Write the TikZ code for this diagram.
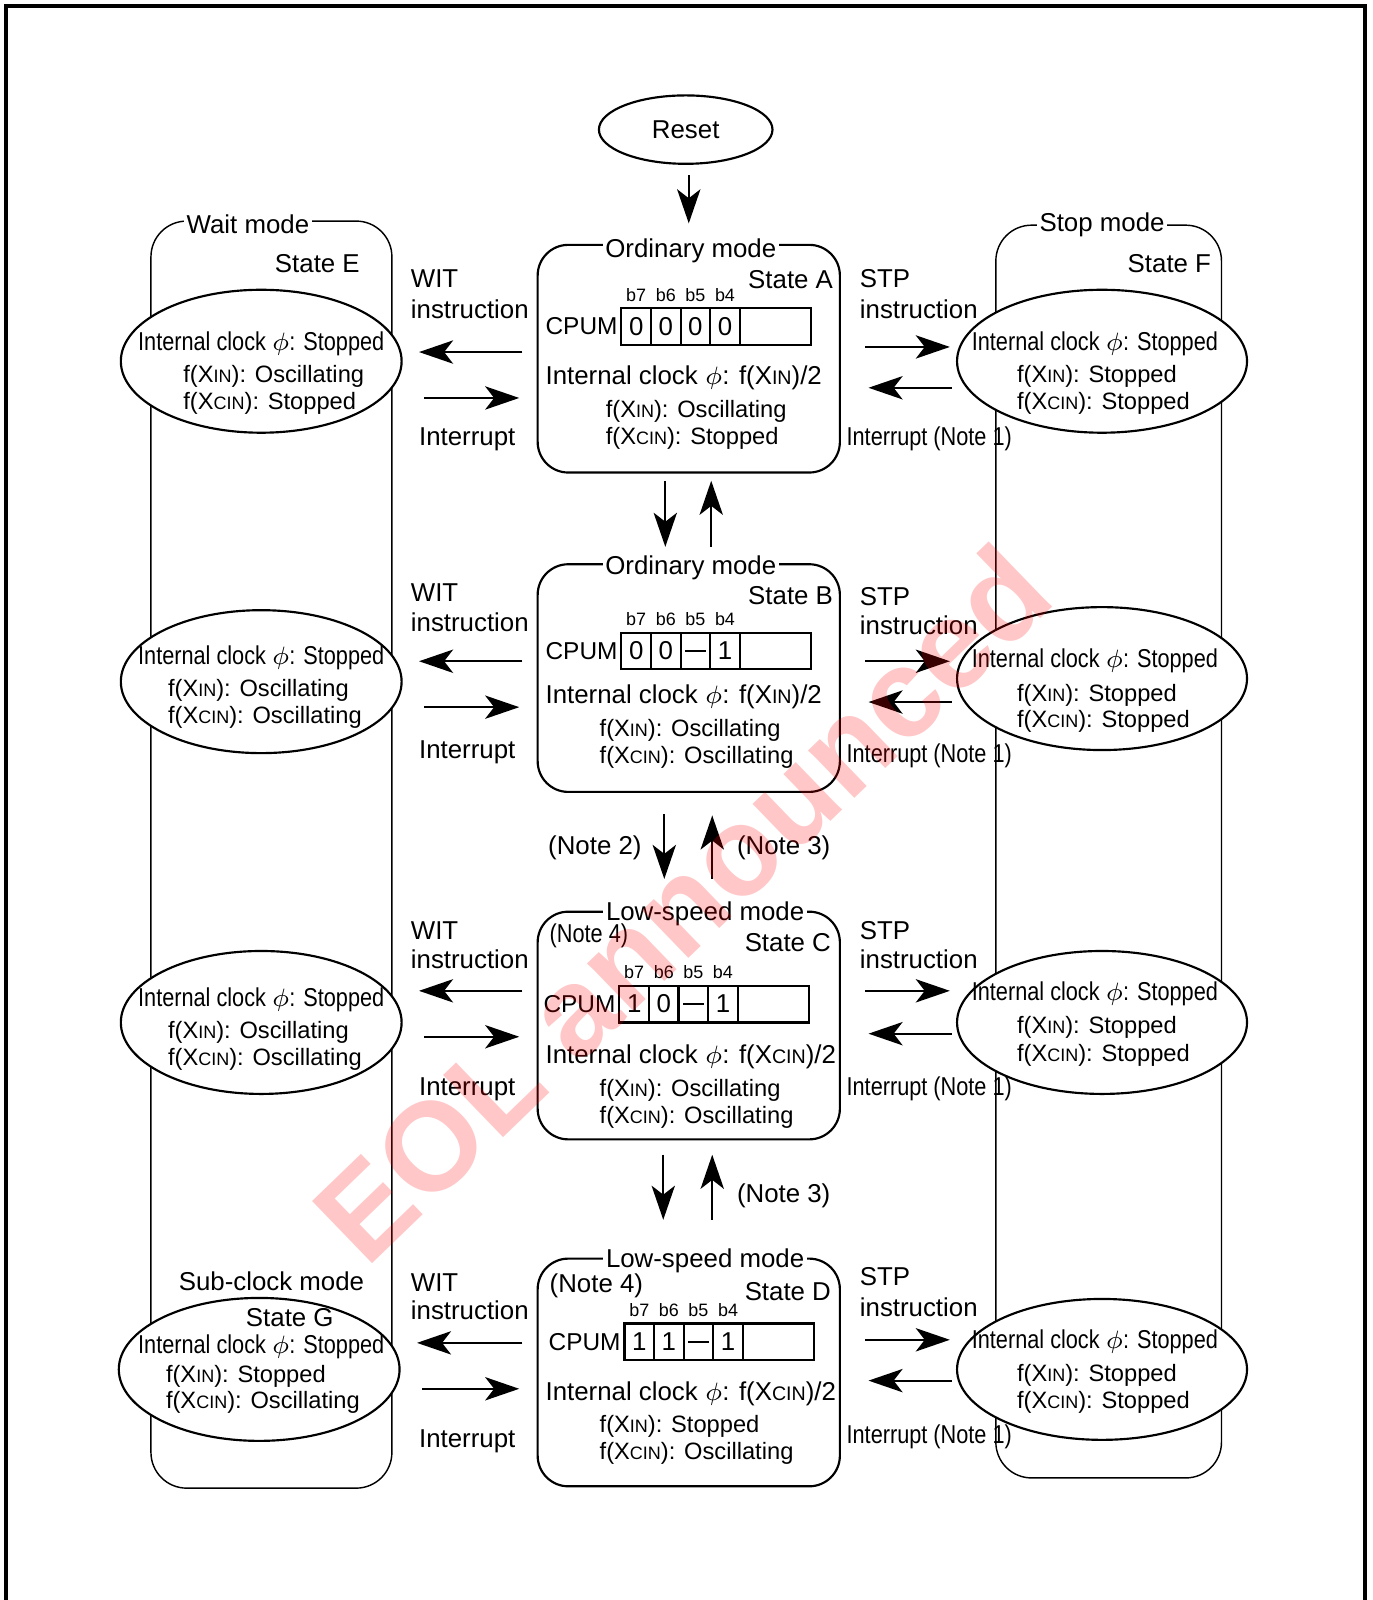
\documentclass[tikz,border=0pt]{standalone}
\usepackage{fontspec}
\setmainfont{Liberation Sans}
\newfontfamily\narrowfont{Liberation Sans}[FakeStretch=0.84]
\usetikzlibrary{arrows.meta,shapes.geometric}

\newcommand{\smcap}[1]{\scalebox{0.76}{#1}}
\newcommand{\xin}{X\smcap{IN}}
\newcommand{\xcin}{X\smcap{CIN}}

\begin{document}
\begin{tikzpicture}[x=0.01cm,y=-0.01cm,
  every node/.style={font=\fontsize{7.2}{8.6}\selectfont,inner sep=0pt},
  narrow/.style={font=\fontsize{7.2}{8.6}\narrowfont},
  fx/.style={font=\fontsize{6.6}{8}\selectfont,anchor=west},
  bit/.style={font=\fontsize{5}{6}\selectfont},
  arr/.style={-{Stealth[length=9.5pt,width=6.5pt,inset=2.5pt]},line width=0.55pt},
  statebox/.style={draw,line width=0.6pt,rounded corners=0.3cm,minimum width=2.96cm,minimum height=2.23cm},
  modebox/.style={draw,line width=0.4pt,rounded corners=0.35cm},
  oval/.style={draw,ellipse,fill=white,line width=0.6pt,minimum height=1.4cm},
  title/.style={fill=white,inner xsep=0.8pt,inner ysep=1pt},
  cell/.style={draw,line width=0.6pt,minimum width=0.29cm,minimum height=0.36cm}]

\useasboundingbox (0,0) rectangle (1345,1568);

% outer frame, open at the bottom
\draw[line width=1.2pt] (6,1580) -- (6,6) -- (1338,6) -- (1338,1580);

% wait and stop mode columns
\node[modebox,minimum width=2.36cm,minimum height=12.41cm] (wait) at (266,837.5) {};
\node[modebox,minimum width=2.21cm,minimum height=12.27cm] (stop) at (1086.5,834.5) {};
\node[title] (waitT) at (243,220) {Wait mode};
\node[title] (stopT) at (1080,220) {Stop mode};

\node[draw,ellipse,line width=0.6pt,minimum width=1.7cm,minimum height=0.67cm] (reset) at (672,127) {Reset};

% states A to D
\node[statebox] (A) at (675,351.5) {};
\node[statebox] (B) at (675,664.5) {};
\node[statebox] (C) at (675,1005) {};
\node[statebox] (D) at (675,1345) {};

\node[title] (At) at (677,246) {Ordinary mode};
\node[title] (Bt) at (677,556) {Ordinary mode};
\node[title] (Ct) at (691,896) {Low-speed mode};
\node[title] (Dt) at (691,1236) {Low-speed mode};

\node[anchor=east] (As) at (817,274) {State A};
\node[anchor=east] (Bs) at (817,584) {State B};
\node[anchor=east] (Cs) at (815,924) {State C};
\node[anchor=east] (Ds) at (815,1266) {State D};
\node[narrow,anchor=west] (Cn) at (538,917) {(Note 4)};
\node[anchor=west] (Dn) at (538,1260) {(Note 4)};

% CPUM registers
\foreach \s/\x/\y/\va/\vb/\vc/\vd in {A/609/320/0/0/0/0,B/609/638/0/0/\rule{0.2cm}{0.5pt}/1,
    C/607/984/1/0/\rule{0.2cm}{0.5pt}/1,D/612/1315/1/1/\rule{0.2cm}{0.5pt}/1}{
  \node[anchor=west,font=\fontsize{6.8}{8}\selectfont] (\s cpum) at (\x-75,\y) {CPUM};
  \foreach \b/\v [count=\i] in {b7/\va,b6/\vb,b5/\vc,b4/\vd}{
    \node[cell] (\s\i) at ({\x+14.5+29*(\i-1)},\y) {\v};
    \node[bit] (\s b\i) at ({\x+14.5+29*(\i-1)},\y-31) {\b};
  }
  \node[cell,minimum width=0.7cm] (\s5) at (\x+151,\y) {};
}

\node[anchor=west] (Ac) at (534,370) {Internal clock $\phi$: f(\xin)/2};
\node[fx] (Ax) at (593,403) {f(\xin): Oscillating};
\node[fx] (Ay) at (593,430) {f(\xcin): Stopped};
\node[anchor=west] (Bc) at (534,683) {Internal clock $\phi$: f(\xin)/2};
\node[fx] (Bx) at (587,716) {f(\xin): Oscillating};
\node[fx] (By) at (587,742) {f(\xcin): Oscillating};
\node[anchor=west] (Cc) at (534,1036) {Internal clock $\phi$: f(\xcin)/2};
\node[fx] (Cx) at (587,1069) {f(\xin): Oscillating};
\node[fx] (Cy) at (587,1095) {f(\xcin): Oscillating};
\node[anchor=west] (Dc) at (534,1366) {Internal clock $\phi$: f(\xcin)/2};
\node[fx] (Dx) at (587,1398) {f(\xin): Stopped};
\node[fx] (Dy) at (587,1424) {f(\xcin): Oscillating};

% wait side ellipses
\node[oval,minimum width=2.75cm] (E1) at (256,354) {};
\node[oval,minimum width=2.75cm] (E2) at (256,668) {};
\node[oval,minimum width=2.75cm] (E3) at (256,1002) {};
\node[oval,minimum width=2.75cm] (G) at (254,1342) {};
\node (Es) at (311,258) {State E};
\node (Gm) at (266,1256) {Sub-clock mode};
\node (Gs) at (284,1291) {State G};
\foreach \e/\ya/\yb/\yc/\xx/\fa/\fb in {E1/337/369/395/179/Oscillating/Stopped,
    E2/645/677/703/164/Oscillating/Oscillating,E3/980/1012/1038/164/Oscillating/Oscillating,
    G/1320/1349/1374/162/Stopped/Oscillating}{
  \node[narrow] (\e c) at (256,\ya) {Internal clock $\phi$: Stopped};
  \node[fx] (\e x) at (\xx,\yb) {f(\xin): \fa};
  \node[fx] (\e y) at (\xx,\yc) {f(\xcin): \fb};
}

% stop side ellipses
\node[oval,minimum width=2.84cm] (F1) at (1080,354) {};
\node[oval,minimum width=2.84cm] (F2) at (1080,665) {};
\node[oval,minimum width=2.84cm] (F3) at (1080,1002) {};
\node[oval,minimum width=2.84cm,minimum height=1.38cm] (F4) at (1080,1342) {};
\node (Fs) at (1146,258) {State F};
\foreach \f/\ya/\yb/\yc in {F1/337/369/395,F2/648/681/707,F3/974/1007/1034,F4/1315/1348/1374}{
  \node[narrow] (\f c) at (1073,\ya) {Internal clock $\phi$: Stopped};
  \node[fx] (\f x) at (996,\yb) {f(\xin): Stopped};
  \node[fx] (\f y) at (996,\yc) {f(\xcin): Stopped};
}

% WIT / STP labels
\foreach \r/\ya/\yb/\yc in {1/273/303/430,2/581/610/737,3/912/940/1067,4/1257/1284/1412}{
  \node[anchor=west] (wit\r) at (402,\ya) {WIT};
  \node[anchor=west] (witi\r) at (402,\yb) {instruction};
  \node[anchor=west] (wint\r) at (410,\yc) {Interrupt};
}
\foreach \r/\ya/\yb/\yc in {1/273/303/430,2/585/613/741,3/912/940/1067,4/1251/1281/1408}{
  \node[anchor=west] (stp\r) at (842,\ya) {STP};
  \node[anchor=west] (stpi\r) at (842,\yb) {instruction};
  \node[narrow,anchor=west] (sint\r) at (829,\yc) {Interrupt (Note 1)};
}

% horizontal transitions
\foreach \s/\e/\ya/\yb in {A/E1/345/390,B/E2/648/693,C/E3/971/1016,D/G/1316/1361}{
  \draw[arr,shorten <=0.14cm,shorten >=0.16cm] (\s.west |- 0,\ya) -- (\e.east |- 0,\ya);
  \draw[arr,shorten <=0.21cm,shorten >=0.17cm] (\e.east |- 0,\yb) -- (\s.west |- 0,\yb);
}
\foreach \s/\f/\ya/\yb in {A/F1/340/380,B/F2/648/688,C/F3/971/1013,D/F4/1313/1353}{
  \draw[arr,shorten <=0.24cm,shorten >=0.06cm] (\s.east |- 0,\ya) -- (\f.west |- 0,\ya);
  \draw[arr,shorten <=0.04cm,shorten >=0.27cm] (\f.west |- 0,\yb) -- (\s.east |- 0,\yb);
}

% vertical transitions
\draw[arr,shorten <=0.1cm,shorten >=0.2cm] (reset.south -| 675,0) -- (A.north -| 675,0);
\draw[arr,shorten <=0.07cm,shorten >=0.16cm] (A.south -| 652,0) -- (B.north -| 652,0);
\draw[arr,shorten <=0.16cm,shorten >=0.07cm] (B.north -| 697,0) -- (A.south -| 697,0);
\draw[arr,shorten <=0.21cm,shorten >=0.31cm] (B.south -| 651,0) -- (C.north -| 651,0);
\draw[arr,shorten <=0.31cm,shorten >=0.22cm] (C.north -| 698,0) -- (B.south -| 698,0);
\draw[arr,shorten <=0.14cm,shorten >=0.37cm] (C.south -| 650,0) -- (D.north -| 650,0);
\draw[arr,shorten <=0.37cm,shorten >=0.14cm] (D.north -| 698,0) -- (C.south -| 698,0);
\node (n2) at (583,831) {(Note 2)};
\node (n3) at (768,831) {(Note 3)};
\node (n3b) at (768,1172) {(Note 3)};

% watermark
\node[font=\fontsize{35}{40}\selectfont\bfseries,text=red,opacity=0.22,rotate=44] (wm) at (668,885) {EOL announced};

\end{tikzpicture}
\end{document}
